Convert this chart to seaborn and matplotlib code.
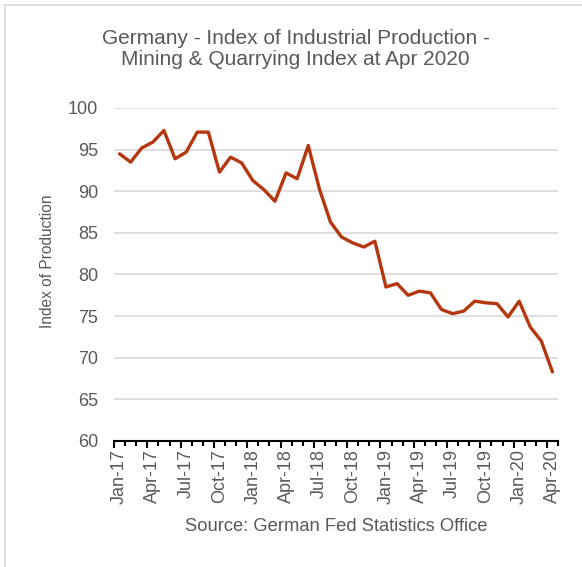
import numpy as np
import pandas as pd
import matplotlib
matplotlib.use("Agg")
import matplotlib.pyplot as plt
from matplotlib.lines import Line2D
from matplotlib.ticker import FixedLocator
import seaborn as sns

# Monthly index of production, mining & quarrying (Germany)
months = [
    "Jan-17", "Feb-17", "Mar-17", "Apr-17", "May-17", "Jun-17",
    "Jul-17", "Aug-17", "Sep-17", "Oct-17", "Nov-17", "Dec-17",
    "Jan-18", "Feb-18", "Mar-18", "Apr-18", "May-18", "Jun-18",
    "Jul-18", "Aug-18", "Sep-18", "Oct-18", "Nov-18", "Dec-18",
    "Jan-19", "Feb-19", "Mar-19", "Apr-19", "May-19", "Jun-19",
    "Jul-19", "Aug-19", "Sep-19", "Oct-19", "Nov-19", "Dec-19",
    "Jan-20", "Feb-20", "Mar-20", "Apr-20",
]
index_values = [
    94.5, 93.5, 95.2, 95.9, 97.3, 93.9,
    94.7, 97.1, 97.1, 92.3, 94.1, 93.4,
    91.3, 90.2, 88.8, 92.2, 91.5, 95.5,
    90.3, 86.3, 84.5, 83.8, 83.3, 84.0,
    78.5, 78.9, 77.5, 78.0, 77.8, 75.8,
    75.3, 75.6, 76.8, 76.6, 76.5, 74.9,
    76.8, 73.7, 72.0, 68.3,
]
y_ticks = [60, 65, 70, 75, 80, 85, 90, 95, 100]

df = pd.DataFrame({"pos": np.arange(len(months)), "month": months, "value": index_values})

sns.set_theme(style="white")
plt.rcParams["font.family"] = ["Liberation Sans", "DejaVu Sans"]

text_grey = "#595959"
grid_grey = "#d9d9d9"
line_red = "#B5370F"

fig = plt.figure(figsize=(5.82, 5.67), dpi=100)
ax = fig.add_axes([114 / 582, 1 - 441 / 567, 444 / 582, 333 / 567])

sns.lineplot(data=df, x="pos", y="value", ax=ax, color=line_red, linewidth=2.4)

n = len(months)
ax.set_xlim(-0.5, n - 0.5)
ax.set_ylim(60, 100)
ax.set_yticks(y_ticks)
ax.set_yticklabels([str(t) for t in y_ticks])
ax.yaxis.grid(True, color=grid_grey, linewidth=1.2)
ax.set_axisbelow(True)
ax.tick_params(axis="y", length=0, pad=11.5, labelsize=13, labelcolor=text_grey)
ax.set_ylabel("Index of Production", fontsize=11.2, color=text_grey)
ax.yaxis.set_label_coords(-(114 - 55) / 444, (441 - 261) / 333)
ax.set_xlabel("")

for side in ["top", "right", "left"]:
    ax.spines[side].set_visible(False)
ax.spines["bottom"].set_color("black")
ax.spines["bottom"].set_linewidth(1.5)

# Tick marks between categories: quarters longer, months shorter
ax.xaxis.set_major_locator(FixedLocator(np.arange(-0.5, n, 3)))
ax.xaxis.set_minor_locator(FixedLocator(np.arange(-0.5, n + 0.5, 1)))
ax.set_xticklabels([])
ax.tick_params(axis="x", which="major", length=5, width=1.5, color="black", direction="out", bottom=True)
ax.tick_params(axis="x", which="minor", length=3.5, width=1.5, color="black", direction="out", bottom=True)

# Category labels centred under every third month
sec = ax.secondary_xaxis("bottom")
label_pos = df["pos"].iloc[::3].to_numpy()
sec.set_xticks(label_pos)
sec.set_xticklabels(df["month"].iloc[::3].tolist(), rotation=90)
sec.tick_params(length=0, pad=6, labelsize=13, labelcolor=text_grey)
sec.spines["bottom"].set_visible(False)

fig.text(295.5 / 582, 1 - 44 / 567, "Germany - Index of Industrial Production -",
         ha="center", va="baseline", fontsize=15, color=text_grey)
fig.text(295.5 / 582, 1 - 64.7 / 567, "Mining & Quarrying Index at Apr 2020",
         ha="center", va="baseline", fontsize=15, color=text_grey)
fig.text(336 / 582, 1 - 531 / 567, "Source: German Fed Statistics Office",
         ha="center", va="baseline", fontsize=13.2, color=text_grey)

# Light frame around the chart area
fig.add_artist(Line2D([4 / 582, 1], [1 - 4.5 / 567, 1 - 4.5 / 567], color=grid_grey, linewidth=1.2))
fig.add_artist(Line2D([4.5 / 582, 4.5 / 582], [0, 1 - 4.5 / 567], color=grid_grey, linewidth=1.2))

fig.savefig("out.png", dpi=100)
